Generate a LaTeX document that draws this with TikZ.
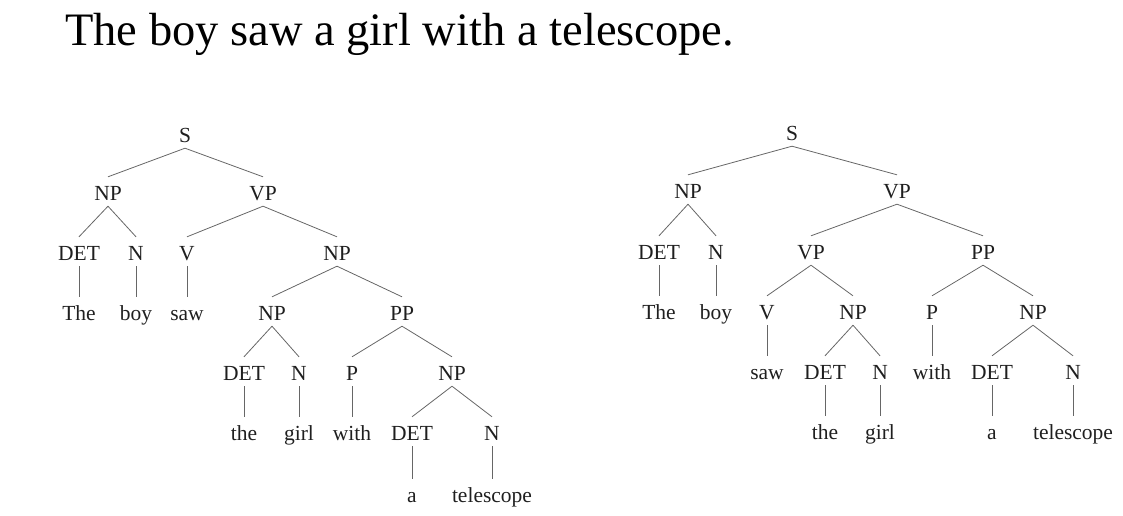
\documentclass[tikz,border=0pt]{standalone}
\usepackage{fontspec}
\setmainfont{Liberation Serif}
\tikzset{
  lbl/.style={inner sep=0pt, text height=14pt, text depth=0pt, font=\fontsize{21.5}{24}\selectfont, text=black!88},
  branch/.style={draw=black!60, line width=0.8pt}
}
\newcommand\br[2]{\draw[branch] ([yshift=-6pt]#1.south) -- ([yshift=9pt]#2.north);}
\begin{document}
\begin{tikzpicture}[x=1pt,y=-1pt]
\useasboundingbox (0,0) rectangle (1123,515);
\node[anchor=base west, inner sep=0pt, font=\fontsize{46.5}{50}\selectfont] (title) at (65,45.5) {The boy saw a girl with a telescope.};
% ---------- left tree ----------
\node[lbl] (aS) at (185,135) {S};
\node[lbl] (aNP) at (108,193) {NP};
\node[lbl] (aVP) at (263,193) {VP};
\node[lbl] (aDET) at (79,253) {DET};
\node[lbl] (aN) at (136,253) {N};
\node[lbl] (aV) at (187,253) {V};
\node[lbl] (aNPo) at (337,253) {NP};
\node[lbl] (aThe) at (79,313) {The};
\node[lbl] (aboy) at (136,313) {boy};
\node[lbl] (asaw) at (187,313) {saw};
\node[lbl] (aNPg) at (272,313) {NP};
\node[lbl] (aPP) at (402,313) {PP};
\node[lbl] (aDETg) at (244,373) {DET};
\node[lbl] (aNg) at (299,373) {N};
\node[lbl] (aP) at (352,373) {P};
\node[lbl] (aNPt) at (452,373) {NP};
\node[lbl] (athe) at (244,433) {the};
\node[lbl] (agirl) at (299,433) {girl};
\node[lbl] (awith) at (352,433) {with};
\node[lbl] (aDETt) at (412,433) {DET};
\node[lbl] (aNt) at (492,433) {N};
\node[lbl] (aa) at (412,495) {a};
\node[lbl] (atel) at (492,495) {telescope};
\br{aS}{aNP} \br{aS}{aVP}
\br{aNP}{aDET} \br{aNP}{aN}
\br{aVP}{aV} \br{aVP}{aNPo}
\br{aDET}{aThe} \br{aN}{aboy} \br{aV}{asaw}
\br{aNPo}{aNPg} \br{aNPo}{aPP}
\br{aNPg}{aDETg} \br{aNPg}{aNg}
\br{aPP}{aP} \br{aPP}{aNPt}
\br{aDETg}{athe} \br{aNg}{agirl} \br{aP}{awith}
\br{aNPt}{aDETt} \br{aNPt}{aNt}
\br{aDETt}{aa} \br{aNt}{atel}
% ---------- right tree ----------
\node[lbl] (bS) at (792,133) {S};
\node[lbl] (bNP) at (688,191) {NP};
\node[lbl] (bVP) at (897,191) {VP};
\node[lbl] (bDET) at (659,252) {DET};
\node[lbl] (bN) at (716,252) {N};
\node[lbl] (bVPi) at (811,252) {VP};
\node[lbl] (bPP) at (983,252) {PP};
\node[lbl] (bThe) at (659,312) {The};
\node[lbl] (bboy) at (716,312) {boy};
\node[lbl] (bV) at (767,312) {V};
\node[lbl] (bNPg) at (853,312) {NP};
\node[lbl] (bP) at (932,312) {P};
\node[lbl] (bNPt) at (1033,312) {NP};
\node[lbl] (bsaw) at (767,372) {saw};
\node[lbl] (bDETg) at (825,372) {DET};
\node[lbl] (bNg) at (880,372) {N};
\node[lbl] (bwith) at (932,372) {with};
\node[lbl] (bDETt) at (992,372) {DET};
\node[lbl] (bNt) at (1073,372) {N};
\node[lbl] (bthe) at (825,432) {the};
\node[lbl] (bgirl) at (880,432) {girl};
\node[lbl] (ba) at (992,432) {a};
\node[lbl] (btel) at (1073,432) {telescope};
\br{bS}{bNP} \br{bS}{bVP}
\br{bNP}{bDET} \br{bNP}{bN}
\br{bDET}{bThe} \br{bN}{bboy}
\br{bVP}{bVPi} \br{bVP}{bPP}
\br{bVPi}{bV} \br{bVPi}{bNPg}
\br{bPP}{bP} \br{bPP}{bNPt}
\br{bV}{bsaw}
\br{bNPg}{bDETg} \br{bNPg}{bNg}
\br{bP}{bwith}
\br{bNPt}{bDETt} \br{bNPt}{bNt}
\br{bDETg}{bthe} \br{bNg}{bgirl}
\br{bDETt}{ba} \br{bNt}{btel}
\end{tikzpicture}
\end{document}
